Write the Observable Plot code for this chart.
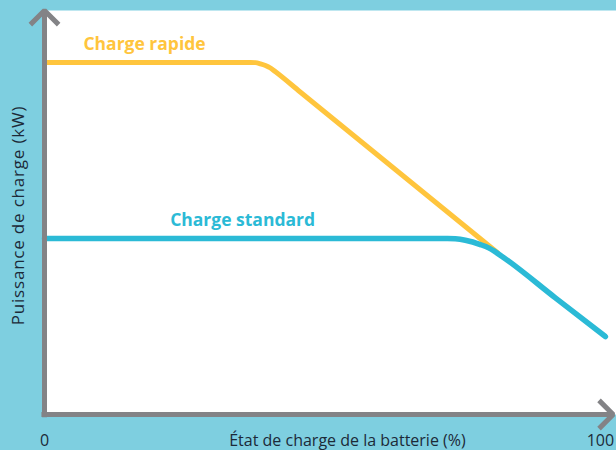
<!DOCTYPE html>
<html>
<head>
<meta charset="utf-8">
<script src="https://cdn.jsdelivr.net/npm/d3@7"></script>
<script src="https://cdn.jsdelivr.net/npm/@observablehq/plot@0.6"></script>
<style>
  html, body { margin: 0; padding: 0; background: #7ecfe0; }
  #chart { width: 616px; height: 450px; }
  svg { display: block; }
</style>
</head>
<body>
<div id="chart"></div>
<script>
// Data (x: état de charge %, y: puissance kW)
const rapideX = [0, 37.05, 37.95, 38.85, 39.75, 40.65, 41.5, 46.0, 81.5];
const rapideY = [150, 150, 149.9, 149.4, 148.7, 147.6, 146.1, 137.4, 68.9];
const standardX = [0, 72.5, 73.9, 75.7, 78.4, 79.9, 81.1, 82.7, 91.9, 100.9];
const standardY = [75, 75, 74.85, 74.2, 72.4, 71.0, 69.3, 66.7, 49.7, 33.2];
const xTicks = [0, 100];
const xTickLabels = ["0", "100"];
const seriesLabels = [
  {name: "Charge rapide", x: 7.0, y: 157.5, color: "#ffc53d"},
  {name: "Charge standard", x: 22.6, y: 82.5, color: "#2bbad6"}
];
const xTitle = "État de charge de la batterie (%)";
const yTitle = "Puissance de charge (kW)";
const xMax = 102.9, yMax = 172.1;

const rapide = rapideX.map((x, i) => ({x, y: rapideY[i]}));
const standard = standardX.map((x, i) => ({x, y: standardY[i]}));
const ticks = xTicks.map((t, i) => ({t, label: xTickLabels[i]}));

const font = "'Open Sans', 'Noto Sans', sans-serif";
const dark = "#1c2a38";
const gray = "#838386";

const chart = Plot.plot({
  width: 616,
  height: 450,
  marginLeft: 44,
  marginRight: 0,
  marginTop: 10,
  marginBottom: 36,
  style: {background: "transparent", fontFamily: font},
  x: {domain: [0, xMax], axis: null},
  y: {domain: [0, yMax], axis: null},
  marks: [
    Plot.frame({fill: "white", stroke: null}),
    Plot.line(rapide, {x: "x", y: "y", stroke: "#ffc53d", strokeWidth: 5, curve: "monotone-x"}),
    Plot.line(standard, {x: "x", y: "y", stroke: "#2bbad6", strokeWidth: 5.5, curve: "monotone-x", strokeLinecap: "round"}),
    Plot.arrow([{x1: -0.55, y1: 0, x2: 102.3, y2: 0}], {x1: "x1", y1: "y1", x2: "x2", y2: "y2", stroke: gray, strokeWidth: 5, headAngle: 90, headLength: 6, strokeLinejoin: "miter", strokeLinecap: "butt"}),
    Plot.arrow([{x1: 0, y1: -1.2, x2: 0, y2: yMax}], {x1: "x1", y1: "y1", x2: "x2", y2: "y2", stroke: gray, strokeWidth: 5, headAngle: 90, headLength: 6, strokeLinejoin: "miter", strokeLinecap: "butt"}),
    Plot.text(ticks, {x: "t", y: () => 0, text: "label", dy: 26, fill: dark, fontSize: 16, lineAnchor: "middle"}),
    Plot.text([xTitle], {x: () => 54.5, frameAnchor: "bottom", text: d => d, dy: 26, fill: dark, fontSize: 16, lineAnchor: "middle"}),
    Plot.text([yTitle], {frameAnchor: "left", text: d => d, rotate: -90, dx: -26, dy: 3, fill: dark, fontSize: 17, textAnchor: "middle", lineAnchor: "middle", style: "letter-spacing: 0.8px"}),
    Plot.text(seriesLabels, {x: "x", y: "y", text: "name", fill: "color", fontSize: 17.5, fontWeight: "bold", textAnchor: "start", lineAnchor: "middle"})
  ]
});
document.querySelector("#chart").appendChild(chart);
// letter spacing for the y title (style option not applied by text mark)
d3.select(chart).selectAll("text").filter(function() { return this.textContent === yTitle; }).attr("letter-spacing", "0.8px");
</script>
</body>
</html>
